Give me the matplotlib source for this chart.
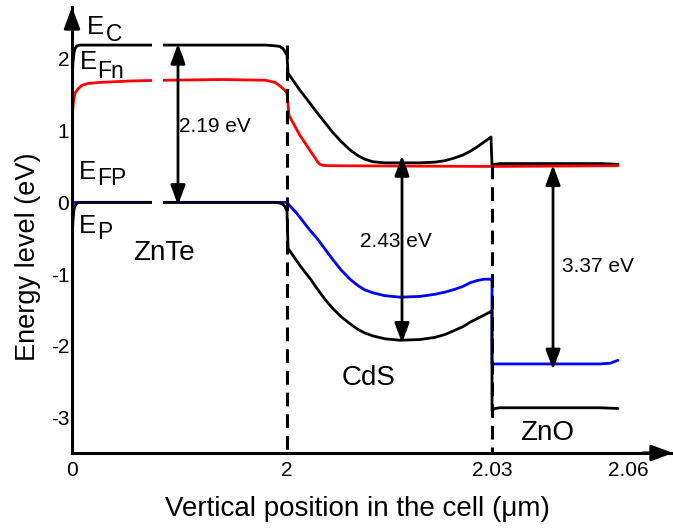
import numpy as np
import matplotlib
matplotlib.use("Agg")
import matplotlib.pyplot as plt

plt.rcParams['font.family'] = ['Liberation Sans', 'DejaVu Sans']
plt.rcParams['axes.unicode_minus'] = False

# ---------------- data (x in micrometres, energy in eV) ----------------
# conduction band E_C
ec_x = [0, 0.0093, 0.0186, 0.028, 0.0465, 0.074, 1.795, 1.888, 1.935, 1.963, 1.981, 2.0,
        2.00015, 2.00117, 2.0019, 2.00263, 2.00337, 2.00439, 2.00556, 2.00673, 2.0079,
        2.00922, 2.01039, 2.01141, 2.01259, 2.01434, 2.01654, 2.01946, 2.02166, 2.02312,
        2.02459, 2.02576, 2.02678, 2.0278, 2.02883, 2.02985,
        2.03, 2.03066, 2.03176, 2.0428, 2.05382, 2.05779]
ec_y = [1.70, 1.95, 2.08, 2.14, 2.18, 2.19, 2.19, 2.18, 2.17, 2.14, 2.10, 2.05,
        1.80, 1.66, 1.56, 1.47, 1.38, 1.25, 1.11, 0.97, 0.85,
        0.73, 0.65, 0.60, 0.565, 0.55, 0.55, 0.55, 0.56, 0.58,
        0.62, 0.66, 0.71, 0.77, 0.84, 0.91,
        0.52, 0.53, 0.54, 0.54, 0.54, 0.53]

# electron quasi-Fermi level E_Fn
efn_x = [0, 0.01, 0.02, 0.028, 0.056, 0.093, 0.15, 0.26, 0.54, 0.85, 1.4, 1.8, 1.888,
         1.935, 1.981, 2.0, 2.0003, 2.0019, 2.00263, 2.00337, 2.0041, 2.0045, 2.00483,
         2.00527, 2.006, 2.03, 2.05779]
efn_y = [1.13, 1.35, 1.46, 1.52, 1.58, 1.63, 1.655, 1.67, 1.69, 1.70, 1.71, 1.70, 1.67,
         1.62, 1.56, 1.52, 1.21, 0.93, 0.83, 0.72, 0.62, 0.56, 0.53,
         0.515, 0.51, 0.50, 0.51]

# hole quasi-Fermi level E_FP
efp_x = [0, 2.0, 2.00015, 2.00073, 2.00132, 2.0019, 2.00263, 2.00337, 2.00439, 2.00556,
         2.00673, 2.0079, 2.00922, 2.01039, 2.01141, 2.01259, 2.01434, 2.01654, 2.01946,
         2.02166, 2.02312, 2.02459, 2.02576, 2.02678, 2.0278, 2.02883, 2.02985, 2.03, 2.03,
         2.03066, 2.05382, 2.05603, 2.05779]
efp_y = [0, 0, -0.02, -0.08, -0.14, -0.21, -0.30, -0.39, -0.50, -0.65,
         -0.80, -0.94, -1.07, -1.16, -1.22, -1.26, -1.30, -1.32, -1.31,
         -1.28, -1.25, -1.21, -1.17, -1.12, -1.09, -1.07, -1.07, -1.08, -2.25,
         -2.25, -2.25, -2.24, -2.20]

# valence band E_P
ev_x = [0, 0.0093, 0.0186, 0.028, 0.0465, 0.074, 1.888, 1.935, 1.963, 1.981, 2.0,
        2.00015, 2.00117, 2.0019, 2.00263, 2.00337, 2.00439, 2.00556, 2.00673, 2.0079,
        2.00922, 2.01039, 2.01141, 2.01259, 2.01434, 2.01654, 2.01946, 2.02166, 2.02312,
        2.02459, 2.02576, 2.02678, 2.0278, 2.02883, 2.02985, 2.03,
        2.03, 2.03066, 2.03176, 2.05382, 2.05779]
ev_y = [-0.50, -0.25, -0.10, -0.05, -0.01, 0, 0, -0.01, -0.03, -0.06, -0.12,
        -0.64, -0.78, -0.88, -0.97, -1.06, -1.20, -1.35, -1.48, -1.59,
        -1.69, -1.77, -1.82, -1.86, -1.90, -1.92, -1.91, -1.88, -1.84,
        -1.78, -1.73, -1.67, -1.62, -1.57, -1.52, -1.51,
        -2.90, -2.87, -2.86, -2.86, -2.87]

# interfaces (dashed) and their upper ends
interfaces = [2.0, 2.03]
interface_top = [2.19, 0.52]

# band-gap arrows: x, top, bottom, label
gap_x = [0.986, 2.01683, 2.04346]
gap_top = [2.21, 0.65, 0.52]
gap_bot = [-0.04, -1.96, -2.33]
gap_labels = ['2.19 eV', '2.43 eV', '3.37 eV']

xtick_vals = [0, 2, 2.03, 2.06]
xtick_labels = ['0', '2', '2.03', '2.06']
ytick_vals = [-3, -2, -1, 0, 1, 2]
ytick_labels = ['-3', '-2', '-1', '0', '1', '2']

# broken-axis region in ZnTe
break_lo, break_hi = 0.744, 0.847

# ---------------- piecewise scale ----------------
xb = np.array([0.0, 2.0, 2.03, 2.06])
ub = np.array([0.0, 215.0, 420.0, 556.0])


def _pw(v, a, b):
    v = np.asarray(v, dtype=float)
    out = np.interp(v, a, b)
    s_hi = (b[-1] - b[-2]) / (a[-1] - a[-2])
    s_lo = (b[1] - b[0]) / (a[1] - a[0])
    out = np.where(v > a[-1], b[-1] + (v - a[-1]) * s_hi, out)
    out = np.where(v < a[0], b[0] + (v - a[0]) * s_lo, out)
    return out


def fwd(v):
    return _pw(v, xb, ub)


def inv(v):
    return _pw(v, ub, xb)


W, H = 673, 528
fig = plt.figure(figsize=(W / 100, H / 100), dpi=100)
ax = fig.add_axes([72 / W, 75 / H, 601 / W, 446 / H])
ax.set_xscale('function', functions=(fwd, inv))

ylo, yhi = -3.49, 2.72
xhi = 2.06 + (601 - 556) / 136 * 0.03
ax.set_xlim(0, xhi)
ax.set_ylim(ylo, yhi)

lw = 2.0
kw = dict(lw=lw, solid_joinstyle='round', solid_capstyle='round')
ax.plot(efp_x, efp_y, color='#0000ff', zorder=2.0, **kw)
ax.plot(ec_x, ec_y, color='black', zorder=2.1, **kw)
ax.plot(efn_x, efn_y, color='#ff0000', zorder=2.2, **kw)
ax.plot(ev_x, ev_y, color='black', zorder=2.3, **kw)

for xi, yt in zip(interfaces, interface_top):
    ax.plot([xi, xi], [yt, ylo], color='black', lw=2.2, dashes=(4.5, 2.6), zorder=2.4)

# axis break gap
fy0 = (-0.12 - ylo) / (yhi - ylo)
fy1 = (2.32 - ylo) / (yhi - ylo)
ax.axvspan(break_lo, break_hi, ymin=fy0, ymax=fy1, color='white', lw=0, zorder=2.6)

for xa, yt, yb in zip(gap_x, gap_top, gap_bot):
    ax.annotate('', xy=(xa, yt), xytext=(xa, yb),
                arrowprops=dict(arrowstyle='<|-|>,head_length=0.6,head_width=0.22',
                                lw=2.0, color='black', mutation_scale=20,
                                shrinkA=0, shrinkB=0), zorder=3)

# spines / axis arrows
for s in ['top', 'right']:
    ax.spines[s].set_visible(False)
for s in ['left', 'bottom']:
    ax.spines[s].set_linewidth(2.2)
ax.annotate('', xy=(0, 1.0), xycoords='axes fraction', xytext=(0, 0.95),
            arrowprops=dict(arrowstyle='-|>,head_length=0.8,head_width=0.3', lw=2.2,
                            color='black', mutation_scale=16, shrinkA=0, shrinkB=0),
            annotation_clip=False)
ax.annotate('', xy=(1.0, 0), xycoords='axes fraction', xytext=(0.95, 0),
            arrowprops=dict(arrowstyle='-|>,head_length=0.8,head_width=0.3', lw=2.2,
                            color='black', mutation_scale=16, shrinkA=0, shrinkB=0),
            annotation_clip=False)

ax.set_xticks(xtick_vals)
ax.set_xticklabels(xtick_labels)
ax.set_yticks(ytick_vals)
ax.set_yticklabels(ytick_labels)
ax.xaxis.set_minor_locator(matplotlib.ticker.NullLocator())
ax.tick_params(axis='x', length=0, pad=6, labelsize=15)
ax.tick_params(axis='y', length=0, pad=2, labelsize=15)

ax.set_xlabel('Vertical position in the cell (\u03bcm)', fontsize=20)
ax.set_ylabel('Energy level (eV)', fontsize=19.5)
ax.xaxis.set_label_coords((357 - 72) / 601, (453 - 496) / 446)
ax.yaxis.set_label_coords((41 - 72) / 601, (453 - 257) / 446)


def ftxt(px, py, s, size, ha='left', va='baseline'):
    fig.text(px / W, 1 - py / H, s, fontsize=size, ha=ha, va=va)


# band labels
ftxt(87, 34, 'E', 18.5)
ftxt(106, 41, 'C', 16.5)
ftxt(80, 69, 'E', 18.5)
ftxt(97, 78, 'Fn', 16.5)
ftxt(79, 179, 'E', 18.5)
ftxt(97, 185, 'FP', 16.5)
ftxt(79, 233, 'E', 18.5)
ftxt(97, 239, 'P', 16.5)

# gap labels
gap_label_pos = [(179, 132), (360, 247), (562, 272)]
for (px, py), t in zip(gap_label_pos, gap_labels):
    ftxt(px, py, t, 15)

# material labels
ftxt(133, 260, 'ZnTe', 20)
ftxt(342, 385, 'CdS', 20)
ftxt(520, 440, 'ZnO', 20)

fig.savefig('out.png', dpi=100)
